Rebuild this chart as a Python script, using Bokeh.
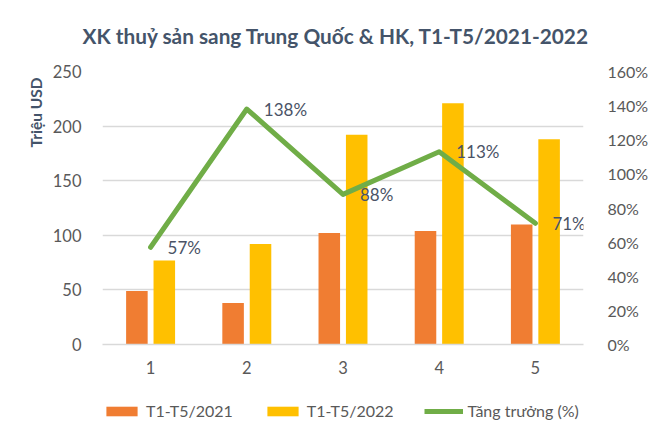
from bokeh.plotting import figure
from bokeh.layouts import column
from bokeh.models import (Range1d, LinearAxis, FactorRange, Legend, LegendItem, Title,
                          PrintfTickFormatter, FixedTicker, ColumnDataSource)
from bokeh.transform import dodge
from bokeh.core.properties import value
from bokeh.embed import file_html
from bokeh.resources import INLINE

# ---- data ----
months = ["1", "2", "3", "4", "5"]
v2021 = [49, 38, 102, 104, 110]
v2022 = [77, 92, 192, 221, 188]
growth = [57, 138, 88, 113, 71]
growth_labels = [f"{g}%" for g in growth]
left_ticks = [0, 50, 100, 150, 200, 250]
right_ticks = [0, 20, 40, 60, 80, 100, 120, 140, 160]
series_names = ["T1-T5/2021", "T1-T5/2022", "Tăng trưởng (%)"]

FONT = "Lato"
TXT = "#595959"
DARK = "#44546A"
GRID = "#D9D9D9"
C21 = "#F07D32"
C22 = "#FFC000"
CG = "#70AD47"

src = ColumnDataSource(dict(m=months, a=v2021, b=v2022, g=growth, gl=growth_labels))

W = 651
p = figure(width=W, height=392, x_range=FactorRange(*months, range_padding=0),
           y_range=Range1d(0, 250), output_backend="svg", toolbar_location=None,
           min_border_left=102, min_border_right=58, min_border_top=71, min_border_bottom=48)
p.extra_y_ranges = {"pct": Range1d(0, 160)}
p.outline_line_color = None
p.background_fill_color = "white"
p.border_fill_color = "white"

p.title.text = "XK thuỷ sản sang Trung Quốc & HK, T1-T5/2021-2022"
p.title.align = "left"
p.title.offset = -20
p.title.vertical_align = "top"
p.title.text_font = FONT
p.title.text_font_size = "20.8px"
p.title.text_font_style = "bold"
p.title.text_color = DARK
p.title.standoff = 44

p.vbar(x=dodge("m", -0.1425, range=p.x_range), top="a", width=0.224, source=src,
       fill_color=C21, line_color=None)
p.vbar(x=dodge("m", 0.1425, range=p.x_range), top="b", width=0.224, source=src,
       fill_color=C22, line_color=None)
p.line(x="m", y="g", source=src, y_range_name="pct", line_color=CG,
       line_width=5, line_cap="round", line_join="round")
p.text(x="m", y="g", text="gl", source=src, y_range_name="pct", x_offset=17,
       text_baseline="middle", text_align="left", text_font=value(FONT),
       text_font_size="17px", text_color="#4A5366")

# axes
p.yaxis.ticker = FixedTicker(ticks=left_ticks)
p.yaxis.axis_line_color = None
p.yaxis.major_tick_line_color = None
p.yaxis.minor_tick_line_color = None
p.yaxis.major_label_standoff = 15
p.yaxis.major_label_text_font = FONT
p.yaxis.major_label_text_font_size = "16.5px"
p.yaxis.major_label_text_color = TXT

ax2 = LinearAxis(y_range_name="pct", ticker=FixedTicker(ticks=right_ticks),
                 formatter=PrintfTickFormatter(format="%d%%"))
ax2.axis_line_color = None
ax2.major_tick_line_color = None
ax2.minor_tick_line_color = None
ax2.major_label_standoff = 18
ax2.major_label_text_font = FONT
ax2.major_label_text_font_size = "16px"
ax2.major_label_text_color = TXT
p.add_layout(ax2, "right")

p.xaxis.axis_line_color = GRID
p.xaxis.axis_line_width = 1.5
p.xaxis.major_tick_line_color = None
p.xaxis.minor_tick_line_color = None
p.xaxis.major_label_standoff = 10
p.xaxis.major_label_text_font = FONT
p.xaxis.major_label_text_font_size = "16.5px"
p.xaxis.major_label_text_color = TXT
p.xgrid.grid_line_color = None
p.ygrid.grid_line_color = GRID
p.ygrid.grid_line_width = 1.5

p.add_layout(Title(text="Triệu USD", align="right", offset=6, text_font=FONT,
                   text_font_size="15.5px", text_font_style="bold", text_color=DARK), "left")

# ---- legend strip (separate figure, series drawn out of view) ----
pl = figure(width=W, height=34, x_range=FactorRange(*months, range_padding=0),
            y_range=Range1d(1000, 1001), output_backend="svg", toolbar_location=None,
            x_axis_type=None, y_axis_type=None,
            min_border_left=0, min_border_right=0, min_border_top=0, min_border_bottom=0)
pl.outline_line_color = None
pl.grid.grid_line_color = None
pl.border_fill_color = "white"
l1 = pl.vbar(x=dodge("m", -0.1425, range=pl.x_range), top="a", width=0.224, source=src,
             fill_color=C21, line_color=None)
l2 = pl.vbar(x=dodge("m", 0.1425, range=pl.x_range), top="b", width=0.224, source=src,
             fill_color=C22, line_color=None)
l3 = pl.line(x="m", y="g", source=src, line_color=CG, line_width=5)

legend = Legend(items=[LegendItem(label=series_names[0], renderers=[l1]),
                       LegendItem(label=series_names[1], renderers=[l2]),
                       LegendItem(label=series_names[2], renderers=[l3])],
                orientation="horizontal", location=(0, 6))
legend.border_line_color = None
legend.background_fill_alpha = 0
legend.label_text_font = FONT
legend.label_text_font_size = "16px"
legend.label_text_color = TXT
legend.glyph_width = 39
legend.glyph_height = 12
legend.label_standoff = 5
legend.spacing = 30
legend.margin = 0
legend.padding = 0
pl.add_layout(legend)

page = column(p, pl, spacing=0)
open("out.html", "w").write(file_html(page, INLINE))
